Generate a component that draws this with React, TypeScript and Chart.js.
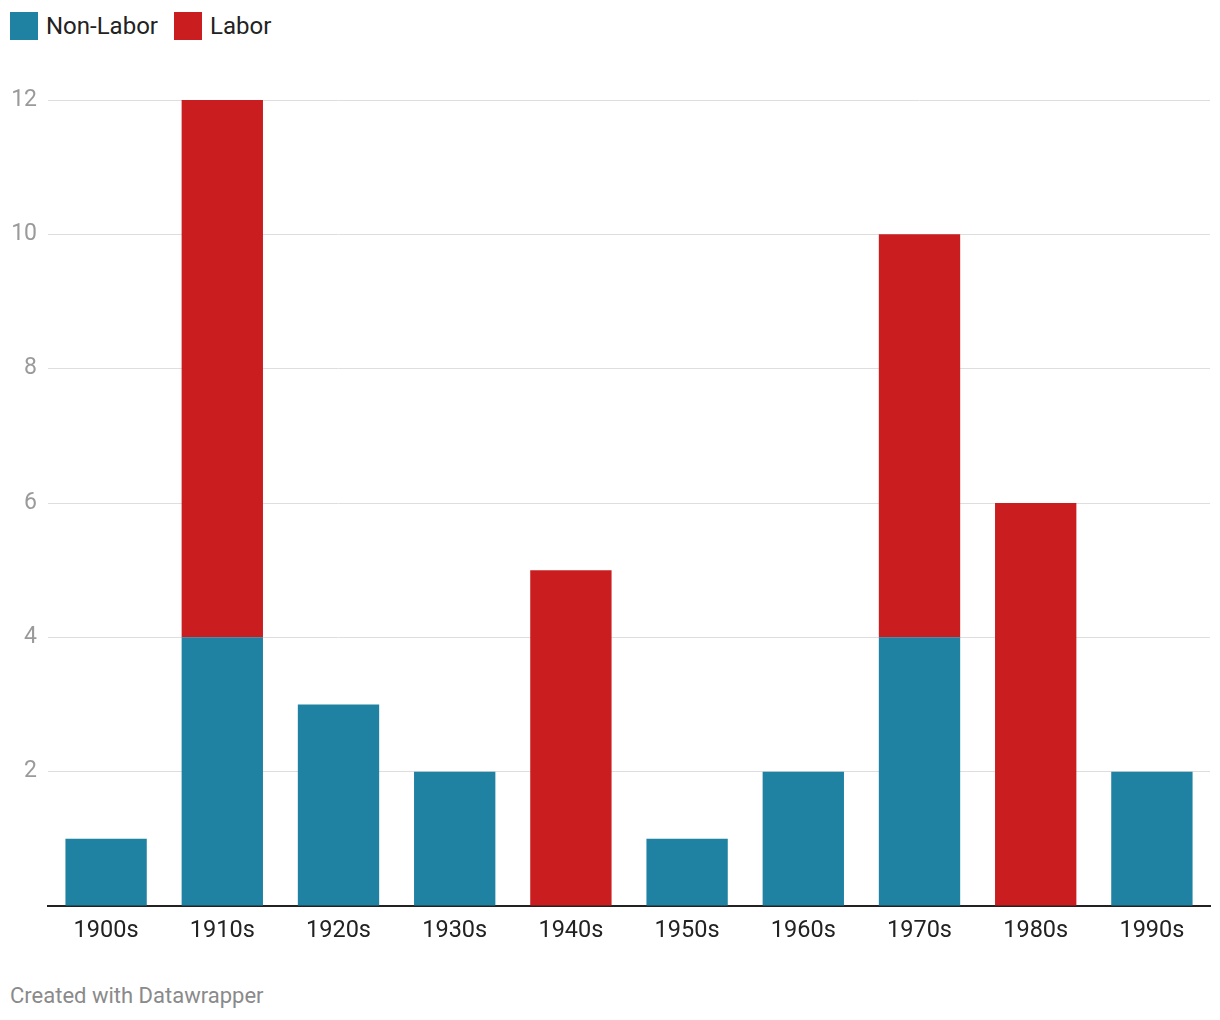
import React, { useEffect, useRef } from "react";
import { Chart, registerables } from "chart.js";

Chart.register(...registerables);

const categories = ["1900s", "1910s", "1920s", "1930s", "1940s", "1950s", "1960s", "1970s", "1980s", "1990s"];
const nonLabor = [1, 4, 3, 2, 0, 1, 2, 4, 0, 2];
const labor = [0, 8, 0, 0, 5, 0, 0, 6, 6, 0];
const seriesNames = ["Non-Labor", "Labor"];
const seriesColors = ["#1f82a2", "#c91d1f"];
const yTicks = [0, 2, 4, 6, 8, 10, 12];
const footerText = "Created with Datawrapper";

const FONT = "Roboto, 'Noto Sans', sans-serif";

export default function App() {
  const canvasRef = useRef<HTMLCanvasElement | null>(null);

  useEffect(() => {
    document.body.style.margin = "0";
    const canvas = canvasRef.current;
    if (!canvas) return;
    const chart = new Chart(canvas, {
      type: "bar",
      data: {
        labels: categories,
        datasets: [
          { label: seriesNames[0], data: nonLabor, backgroundColor: seriesColors[0], borderWidth: 0 },
          { label: seriesNames[1], data: labor, backgroundColor: seriesColors[1], borderWidth: 0 },
        ],
      },
      options: {
        animation: false,
        responsive: false,
        maintainAspectRatio: false,
        devicePixelRatio: 1,
        layout: { padding: { top: 40, right: 10, left: 2, bottom: 0 } },
        plugins: { legend: { display: false }, tooltip: { enabled: false } },
        datasets: { bar: { categoryPercentage: 1, barPercentage: 0.7 } },
        scales: {
          x: {
            stacked: true,
            grid: { display: false, drawTicks: false },
            border: { display: true, color: "#222222", width: 2 },
            ticks: { color: "#222222", font: { family: FONT, size: 23.5 }, padding: 11 },
            afterFit: (s: any) => { s.height = 64; },
          },
          y: {
            stacked: true,
            min: 0,
            max: 12,
            afterBuildTicks: (s: any) => { s.ticks = yTicks.map((v) => ({ value: v })); },
            grid: {
              drawTicks: false,
              color: (ctx: any) => (ctx.tick && ctx.tick.value === 0 ? "rgba(0,0,0,0)" : "#dedede"),
              lineWidth: 1,
            },
            border: { display: false },
            ticks: {
              color: "#9a9a9a",
              font: { family: FONT, size: 23 },
              padding: 11,
              callback: (v: any) => (v === 0 ? "" : String(v)),
            },
            afterFit: (s: any) => { s.width = 46; },
          },
        },
      },
    });
    return () => chart.destroy();
  }, []);

  return (
    <div style={{ position: "relative", width: 1220, height: 1020, background: "#fff", fontFamily: FONT }}>
      <div style={{ position: "absolute", left: 10, top: 12, display: "flex", alignItems: "center", height: 28 }}>
        {seriesNames.map((n, i) => (
          <div key={n} style={{ display: "flex", alignItems: "center", marginRight: 16 }}>
            <span style={{ display: "inline-block", width: 28, height: 28, background: seriesColors[i], marginRight: 8 }} />
            <span style={{ fontSize: 24, color: "#222", lineHeight: "28px" }}>{n}</span>
          </div>
        ))}
      </div>
      <canvas ref={canvasRef} width={1220} height={910} style={{ position: "absolute", left: 0, top: 60, width: 1220, height: 910 }} />
      <div style={{ position: "absolute", left: 10, top: 982, fontSize: 22, color: "#8a8a8a", lineHeight: "28px" }}>
        {footerText}
      </div>
    </div>
  );
}
